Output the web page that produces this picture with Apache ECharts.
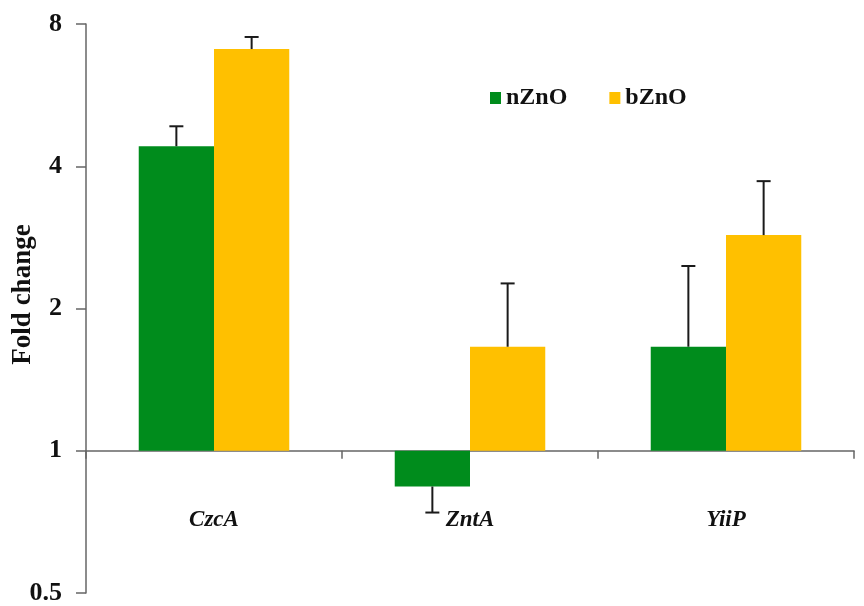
<!DOCTYPE html>
<html>
<head>
<meta charset="utf-8">
<script src="https://cdn.jsdelivr.net/npm/echarts@6/dist/echarts.min.js"></script>
<style>
  html, body { margin: 0; padding: 0; background: #fff; }
  #chart { width: 864px; height: 606px; }
</style>
</head>
<body>
<div id="chart"></div>
<script>
// Genes and fold-change values (log2 axis, baseline at 1)
var categories = ['CzcA', 'ZntA', 'YiiP'];
var nZnO = [4.41, 0.84, 1.66];
var bZnO = [7.08, 1.66, 2.86];
// Far end of each error bar, in fold-change units
var nZnOErrEnd = [4.86, 0.74, 2.46];
var bZnOErrEnd = [7.51, 2.26, 3.72];
var yTicks = [0.5, 1, 2, 4, 8];

var GREEN = '#008c1c';
var YELLOW = '#ffc000';
var FONT = '"Liberation Serif", "Times New Roman", serif';

var gridTop = 24, gridBottom = 13, gridLeft = 86, gridRight = 10;
var chartH = 606;
var plotH = chartH - gridTop - gridBottom;
// One doubling is a quarter of the plot (0.5 .. 8); the category axis sits at y = 1
var baseOffset = -plotH / 4;
var barFrac = 0.294;

function errData(vals, ends) {
  return categories.map(function (c, i) { return [i, vals[i], ends[i]]; });
}

function errRenderer(side) {
  return function (params, api) {
    var cat = api.value(0);
    var p0 = api.coord([cat, api.value(1)]);
    var p1 = api.coord([cat, api.value(2)]);
    var band = api.size([1, 0])[0];
    var x = p0[0] + side * band * barFrac / 2;
    var cap = 7;
    var style = { stroke: '#1a1a1a', lineWidth: 2 };
    return {
      type: 'group',
      children: [
        { type: 'line', shape: { x1: x, y1: p0[1], x2: x, y2: p1[1] }, style: style },
        { type: 'line', shape: { x1: x - cap, y1: p1[1], x2: x + cap, y2: p1[1] }, style: style }
      ]
    };
  };
}

var chart = echarts.init(document.getElementById('chart'), null, { renderer: 'canvas' });
chart.setOption({
  backgroundColor: '#ffffff',
  animation: false,
  grid: {
    left: gridLeft, right: gridRight, top: gridTop, bottom: gridBottom,
    containLabel: false,
    outerBoundsMode: 'none'
  },
  legend: {
    data: ['nZnO', 'bZnO'],
    left: 485,
    top: 81,
    itemWidth: 11,
    itemHeight: 12,
    itemGap: 42,
    icon: 'rect',
    textStyle: { fontFamily: FONT, fontWeight: 'bold', fontSize: 24, color: '#111' }
  },
  xAxis: {
    type: 'category',
    data: categories,
    position: 'bottom',
    offset: baseOffset,
    axisLine: { onZero: false, lineStyle: { color: '#666', width: 1.5 } },
    axisTick: { show: true, length: 8, lineStyle: { color: '#666', width: 1.5 } },
    axisLabel: {
      margin: 58,
      fontFamily: FONT,
      fontWeight: 'bold',
      fontStyle: 'italic',
      fontSize: 23,
      color: '#111'
    }
  },
  yAxis: {
    type: 'log',
    logBase: 2,
    min: yTicks[0],
    max: yTicks[yTicks.length - 1],
    interval: 1,
    name: 'Fold change',
    nameLocation: 'middle',
    nameGap: 49,
    nameMoveOverlap: false,
    nameTextStyle: {
      fontFamily: FONT,
      fontWeight: 'bold',
      fontSize: 27,
      color: '#111',
      padding: [0, 0, 0, 28]
    },
    axisLine: { show: true, lineStyle: { color: '#666', width: 1.5 } },
    axisTick: { show: true, length: 10, lineStyle: { color: '#666', width: 1.5 } },
    axisLabel: {
      margin: 24,
      fontFamily: FONT,
      fontWeight: 'bold',
      fontSize: 26,
      color: '#111'
    },
    splitLine: { show: false }
  },
  series: [
    {
      name: 'nZnO',
      type: 'bar',
      data: nZnO,
      barWidth: (barFrac * 100) + '%',
      barGap: '0%',
      itemStyle: { color: GREEN }
    },
    {
      name: 'bZnO',
      type: 'bar',
      data: bZnO,
      barWidth: (barFrac * 100) + '%',
      barGap: '0%',
      itemStyle: { color: YELLOW }
    },
    {
      name: 'nZnO error',
      type: 'custom',
      data: errData(nZnO, nZnOErrEnd),
      encode: { x: 0, y: [1, 2] },
      renderItem: errRenderer(-1),
      z: 5
    },
    {
      name: 'bZnO error',
      type: 'custom',
      data: errData(bZnO, bZnOErrEnd),
      encode: { x: 0, y: [1, 2] },
      renderItem: errRenderer(1),
      z: 5
    }
  ]
});
</script>
</body>
</html>
